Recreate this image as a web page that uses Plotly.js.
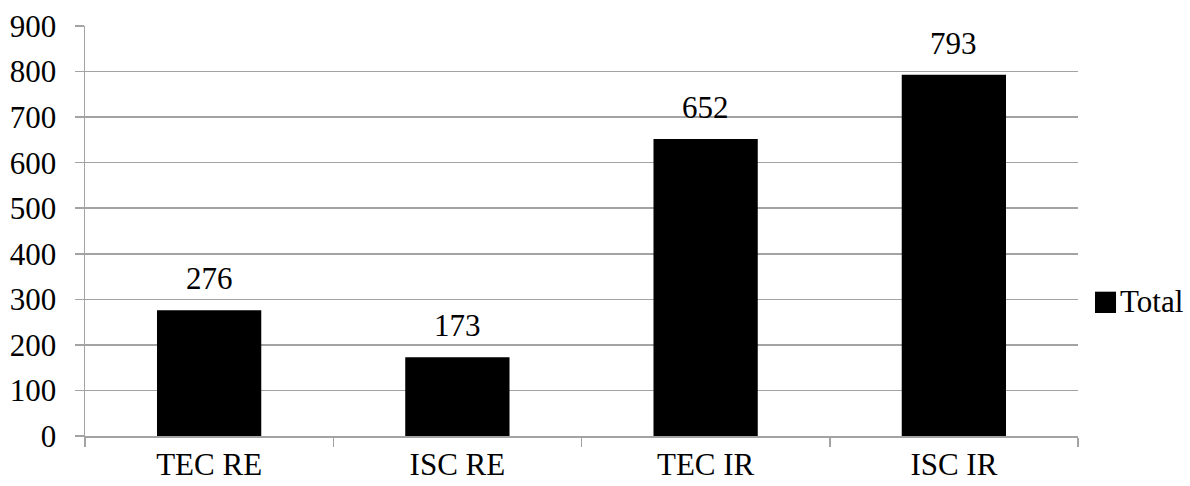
<!DOCTYPE html>
<html>
<head>
<meta charset="utf-8">
<script src="https://cdn.plot.ly/plotly-3.0.1.min.js"></script>
</head>
<body style="margin:0">
<div id="plot" style="width:1190px;height:486px"></div>
<script>
// Totals per group
const categories = ['TEC RE', 'ISC RE', 'TEC IR', 'ISC IR'];
const totals = [276, 173, 652, 793];
const seriesName = 'Total';
const yTicks = [0, 100, 200, 300, 400, 500, 600, 700, 800, 900];

const grid = '#a3a3a3';

// Value labels above each bar
const valueLabels = categories.map((c, i) => ({
  x: c, y: totals[i], xref: 'x', yref: 'y',
  text: String(totals[i]), showarrow: false,
  yanchor: 'bottom', yshift: 12,
  font: { family: 'Liberation Serif', size: 31, color: '#000' }
}));

// Legend entry beside the plot area
const legendLabel = {
  x: 1.0403, y: 0.327, xref: 'paper', yref: 'paper',
  xanchor: 'left', yanchor: 'middle',
  text: seriesName, showarrow: false,
  font: { family: 'Liberation Serif', size: 31, color: '#000' }
};
const legendSwatch = {
  type: 'rect', xref: 'paper', yref: 'paper',
  x0: 1.0171, x1: 1.0383, y0: 0.300, y1: 0.352,
  fillcolor: '#000', line: { width: 0 }
};

Plotly.newPlot('plot', [{
  type: 'bar',
  x: categories,
  y: totals,
  name: seriesName,
  marker: { color: '#000' },
  showlegend: false
}], {
  width: 1190,
  height: 486,
  margin: { l: 85, r: 112, t: 26, b: 50 },
  bargap: 0.58,
  font: { family: 'Liberation Serif', size: 31, color: '#000' },
  xaxis: {
    type: 'category',
    tickson: 'boundaries',
    ticks: 'outside',
    ticklen: 9,
    tickwidth: 1.5,
    tickcolor: grid,
    showline: true,
    linecolor: grid,
    linewidth: 1.5,
    layer: 'above traces',
    showgrid: false,
    tickfont: { family: 'Liberation Serif', size: 31, color: '#000' }
  },
  yaxis: {
    range: [0, 900],
    tickvals: yTicks,
    ticks: 'outside',
    ticklen: 9,
    tickwidth: 1.5,
    tickcolor: grid,
    showline: true,
    linecolor: grid,
    linewidth: 1.5,
    gridcolor: grid,
    gridwidth: 1.5,
    zeroline: false,
    ticklabelstandoff: 12,
    tickfont: { family: 'Liberation Serif', size: 31, color: '#000' }
  },
  annotations: valueLabels.concat([legendLabel]),
  shapes: [legendSwatch],
  showlegend: false
}, { staticPlot: true, displayModeBar: false });
</script>
</body>
</html>
